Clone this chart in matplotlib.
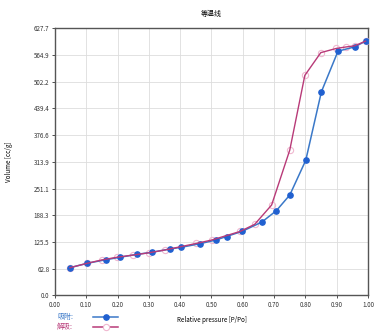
import matplotlib
matplotlib.use('Agg')
import matplotlib.pyplot as plt
from matplotlib.lines import Line2D
import numpy as np

plt.rcParams['font.family'] = ['Noto Sans CJK SC', 'DejaVu Sans']

# adsorption branch
ads_p = [0.048, 0.103, 0.163, 0.207, 0.263, 0.309, 0.367, 0.404, 0.463, 0.514,
         0.548, 0.599, 0.661, 0.707, 0.750, 0.801, 0.851, 0.904, 0.957, 0.992]
ads_v = [64.9, 75.2, 83.7, 89.3, 96.4, 101.1, 108.8, 112.9, 121.3, 130.0,
         138.2, 150.8, 172.3, 198.9, 235.8, 317.4, 478.7, 574.0, 584.0, 597.5]

# desorption branch
des_p = [0.992, 0.957, 0.931, 0.899, 0.849, 0.798, 0.750, 0.692, 0.638, 0.591,
         0.501, 0.452, 0.351, 0.301, 0.250, 0.197, 0.149, 0.103, 0.048]
des_v = [597.5, 586.5, 584.0, 580.5, 570.5, 517.0, 341.6, 212.3, 166.9, 150.0,
         130.0, 122.0, 106.5, 100.0, 94.7, 89.3, 83.0, 75.2, 64.9]

y_max = 627.7
y_ticks = np.linspace(0, y_max, 11)
x_ticks = np.linspace(0, 1, 11)

ads_color = '#3a78c8'
des_color = '#b83a78'

fig = plt.figure(figsize=(3.92, 3.35), dpi=100)
ax = fig.add_axes([0.140, 0.1185, 0.799, 0.797])

# desorption markers under, desorption line over the adsorption curve
ax.plot(des_p, des_v, linestyle='none', marker='o', markersize=4.5,
        markerfacecolor='none', markeredgecolor='#f0b8d0', markeredgewidth=0.8,
        zorder=3)
ax.plot(ads_p, ads_v, color=ads_color, linewidth=1.1, marker='o', markersize=3.8,
        markerfacecolor='#2060d0', markeredgecolor='#2060d0', zorder=4)
ax.plot(des_p, des_v, color=des_color, linewidth=1.0, zorder=5)

ax.set_xlim(0, 1)
ax.set_ylim(0, y_max)
ax.set_xticks(x_ticks)
ax.set_xticklabels(['%.2f' % v for v in x_ticks])
ax.set_yticks(y_ticks)
ax.set_yticklabels(['%.1f' % v for v in y_ticks])
ax.tick_params(labelsize=4.5, length=2, width=0.6, colors='#333333', pad=2)
ax.grid(True, color='#dddddd', linewidth=0.6)
for s in ax.spines.values():
    s.set_color('#555555')
    s.set_linewidth(1.0)

ax.set_title('等温线', fontsize=5, pad=9)
ax.set_xlabel('Relative pressure [P/Po]', fontsize=4.5, labelpad=5)
ax.set_ylabel('Volume [cc/g]', fontsize=4.5, labelpad=15)

# legend drawn by hand under the axes
fig.text(57 / 392, 1 - 317 / 335, '吸附:', color=ads_color, fontsize=5, va='center')
fig.text(57 / 392, 1 - 327 / 335, '解吸:', color=des_color, fontsize=5, va='center')
fig.add_artist(Line2D([93 / 392, 118 / 392], [1 - 317 / 335] * 2, color=ads_color,
                      linewidth=1.1, transform=fig.transFigure))
fig.add_artist(Line2D([106 / 392], [1 - 317 / 335], marker='o', markersize=3.8,
                      color='#2060d0', transform=fig.transFigure))
fig.add_artist(Line2D([93 / 392, 118 / 392], [1 - 327 / 335] * 2, color=des_color,
                      linewidth=1.1, transform=fig.transFigure))
fig.add_artist(Line2D([106 / 392], [1 - 327 / 335], marker='o', markersize=4.5,
                      markerfacecolor='white', markeredgecolor='#f0b8d0',
                      markeredgewidth=0.8, transform=fig.transFigure))

fig.savefig('out.png', dpi=100)
